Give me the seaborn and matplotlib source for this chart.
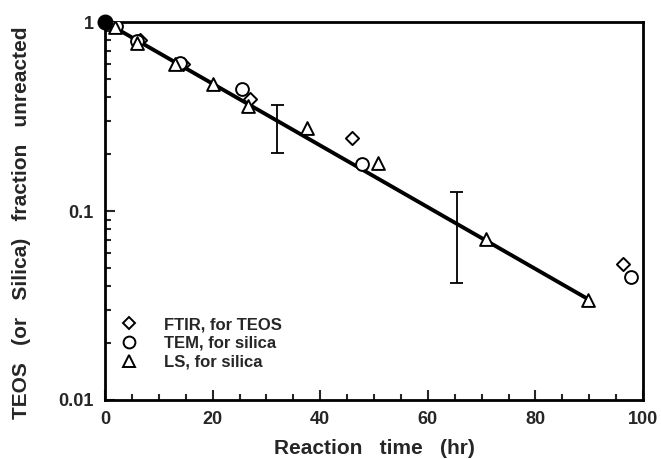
import numpy as np
import pandas as pd
import matplotlib
matplotlib.use("Agg")
import matplotlib.pyplot as plt
from matplotlib.ticker import FixedLocator, MultipleLocator, LogLocator, NullFormatter, FuncFormatter
from matplotlib.lines import Line2D
import seaborn as sns

sns.set_theme(style="ticks")
plt.rcParams["font.family"] = ["Liberation Sans", "DejaVu Sans"]

# Measured fraction unreacted vs. reaction time
ftir_t = [0, 6.5, 14.5, 27.0, 46.0, 96.3]
ftir_f = [1.0, 0.80, 0.60, 0.39, 0.243, 0.0525]

tem_t = [0, 2.0, 6.0, 14.0, 25.5, 47.8, 97.8]
tem_f = [1.0, 0.95, 0.79, 0.61, 0.44, 0.177, 0.0448]

ls_t = [0, 1.9, 6.0, 13.0, 20.0, 26.5, 37.5, 50.7, 70.8, 89.8]
ls_f = [1.0, 0.94, 0.77, 0.60, 0.47, 0.36, 0.275, 0.18, 0.071, 0.034]

# First-order decay fit, f = exp(-k t)
rate_k = 0.0376
fit_range = [0.0, 90.0]

# Error bars (time, lower, upper)
err_t = [32.0, 65.4]
err_lo = [0.203, 0.0416]
err_hi = [0.363, 0.126]

labels = ["FTIR, for TEOS", "TEM, for silica", "LS, for silica"]

fig = plt.figure(figsize=(6.61, 4.59), dpi=100)
ax = fig.add_axes([105 / 661, 1 - 400 / 459, 538 / 661, 378 / 459])

t_fit = np.linspace(fit_range[0], fit_range[1], 50)
fit_df = pd.DataFrame({"t": t_fit, "f": np.exp(-rate_k * t_fit)})
sns.lineplot(data=fit_df, x="t", y="f", ax=ax, color="black", lw=2.8, zorder=2)

mk_kw = dict(facecolor="white", edgecolor="black", linewidth=1.4, zorder=3, legend=False)
sns.scatterplot(x=ftir_t, y=ftir_f, marker="D", s=45, ax=ax, **mk_kw)
sns.scatterplot(x=tem_t, y=tem_f, marker="o", s=85, ax=ax, **mk_kw)
sns.scatterplot(x=ls_t, y=ls_f, marker="^", s=85, ax=ax, **mk_kw)

# solid starting point
ax.scatter([ftir_t[0]], [ftir_f[0]], s=110, color="black", zorder=4, clip_on=False)

for t, lo, hi in zip(err_t, err_lo, err_hi):
    ax.vlines(t, lo, hi, color="black", lw=1.3, zorder=2)
    ax.hlines([lo, hi], t - 1.2, t + 1.2, color="black", lw=1.3, zorder=2)

ax.set_yscale("log")
ax.set_xlim(0, 100)
ax.set_ylim(0.01, 1)

ax.xaxis.set_major_locator(MultipleLocator(20))
ax.xaxis.set_minor_locator(MultipleLocator(5))
ax.yaxis.set_major_locator(FixedLocator([0.01, 0.1, 1]))
ax.yaxis.set_major_formatter(FuncFormatter(lambda v, p: {0.01: "0.01", 0.1: "0.1", 1: "1"}.get(round(v, 3), "")))
ax.yaxis.set_minor_locator(LogLocator(base=10, subs=np.arange(2, 10)))
ax.yaxis.set_minor_formatter(NullFormatter())

ax.tick_params(axis="both", which="major", direction="in", length=7, width=1.5,
               labelsize=13, pad=8, top=False, right=False)
ax.tick_params(axis="both", which="minor", direction="in", length=4, width=1.5,
               top=False, right=False)
for lab in ax.get_xticklabels() + ax.get_yticklabels():
    lab.set_fontweight("bold")

for sp in ax.spines.values():
    sp.set_linewidth(2.0)
    sp.set_color("black")

ax.set_xlabel("Reaction   time   (hr)", fontsize=15, fontweight="bold", labelpad=8)
ax.set_ylabel("TEOS   (or   Silica)   fraction   unreacted", fontsize=15, fontweight="bold")
ax.yaxis.set_label_coords(-0.137, 0.47)

handles = [
    Line2D([], [], ls="", marker="D", ms=6, mfc="white", mec="black", mew=1.4),
    Line2D([], [], ls="", marker="o", ms=8.5, mfc="white", mec="black", mew=1.4),
    Line2D([], [], ls="", marker="^", ms=8.5, mfc="white", mec="black", mew=1.4),
]
leg = ax.legend(handles, labels, loc="lower left", bbox_to_anchor=(-0.008, 0.05), frameon=False,
                prop={"size": 12, "weight": "bold"}, handletextpad=1.1, labelspacing=0.22,
                borderaxespad=0.3)

fig.savefig("out.png", dpi=100)
